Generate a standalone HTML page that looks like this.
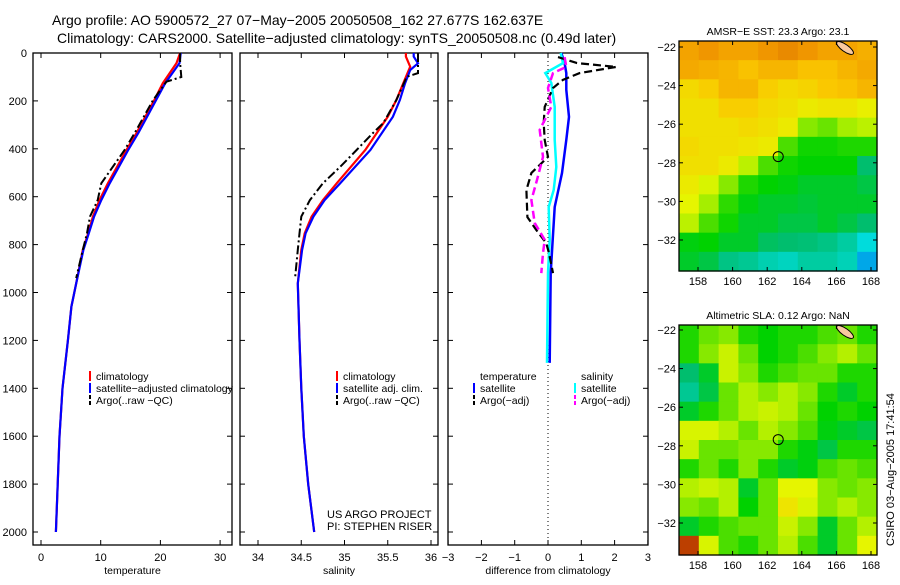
<!DOCTYPE html>
<html><head><meta charset="utf-8"><style>
body{margin:0;background:#fff;}
svg{font-family:"Liberation Sans",sans-serif;}
</style></head><body>
<svg id="c" width="900" height="580" xmlns="http://www.w3.org/2000/svg">
<text x="52" y="25" font-size="14">Argo profile: AO 5900572_27 07−May−2005 20050508_162 27.677S 162.637E</text>
<text x="57" y="43" font-size="14">Climatology: CARS2000. Satellite−adjusted climatology: synTS_20050508.nc (0.49d later)</text>
<text x="327" y="518" font-size="11">US ARGO PROJECT</text>
<text x="327" y="530" font-size="11">PI: STEPHEN RISER</text>
<text transform="translate(894,546) rotate(-90)" font-size="11">CSIRO 03−Aug−2005 17:41:54</text>
</svg>
<script>
const NS="http://www.w3.org/2000/svg";
const svg=document.getElementById('c');
// ---- data ----
const depthT=[0,42,126,196,334,405,544,614,683,753,822,962,1059,1200,1400,1600,1800,2000];
const tempClim=[23.3,22.7,20.4,19,16,14.3,11.2,9.8,8.7,7.9,7.0,5.9,5.1,4.5,3.6,3.1,2.8,2.5];
const tempSat=[23.4,23.2,20.8,19.3,16.3,14.6,11.5,10.1,8.9,8.0,7.1,5.9,5.1,4.5,3.6,3.1,2.8,2.5];
const depthArgoT=[0,42,70,100,120,196,334,405,544,614,683,753,822,940];
const tempArgo=[23.3,23.3,23.4,23.5,21.0,18.8,15.7,14.0,10.1,9.5,8.2,7.7,7.0,5.9];
const depthSC=[0,15,57,126,196,266,405,544,614,683,753,822,962,1200,1400,1600,1800,2000];
const salClim=[35.71,35.71,35.76,35.68,35.6,35.5,35.24,34.91,34.75,34.62,34.54,34.5,34.46,34.48,34.5,34.53,34.58,34.65];
const depthSS=[0,15,43,71,126,196,266,405,544,614,683,753,822,962,1200,1400,1600,1800,2000];
const salSat=[35.8,35.8,35.85,35.76,35.7,35.64,35.56,35.3,34.95,34.77,34.64,34.55,34.51,34.46,34.48,34.5,34.53,34.58,34.65];
const depthArgoS=[0,15,84,99,196,292,334,405,475,544,614,683,753,822,934];
const salArgo=[35.85,35.85,35.85,35.72,35.6,35.45,35.33,35.14,34.95,34.75,34.6,34.5,34.48,34.46,34.43];
const depthD=[0,42,84,154,267,363,501,643,780,919,1294];
const dTempSat=[0.4,0.5,0.55,0.55,0.63,0.55,0.42,0.2,0.14,0.08,0.05];
const depthDS=[0,42,84,125,225,363,476,572,643,780,919,1294];
const dSalSat=[0.38,0.45,-0.08,0.1,0.2,0.2,0.25,0.17,0.02,0.05,0,-0.03];
const depthDA=[17,42,58,84,112,146,225,292,363,434,501,572,685,739,794,836,919];
const dTempArgo=[0.3,0.87,2.05,0.95,0.45,0.15,-0.1,-0.13,-0.1,0,-0.5,-0.65,-0.62,-0.35,-0.05,0.03,0.15];
const depthDM=[17,58,84,146,225,321,434,530,614,710,780,836,919];
const dSalArgo=[0.5,0.55,0.15,0,0.1,-0.25,-0.15,-0.33,-0.5,-0.4,-0.1,-0.15,-0.2];
const depthTicks=[0,200,400,600,800,1000,1200,1400,1600,1800,2000];
const tempTicks=[0,10,20,30];
const salTicks=[34,34.5,35,35.5,36];
const diffTicks=[-3,-2,-1,0,1,2,3];
const sstGrid=[
[.86,.88,.86,.86,.88,.89,.88,.86,.86,.84],
[.85,.84,.83,.81,.83,.83,.81,.81,.83,.85],
[.77,.79,.83,.83,.79,.77,.78,.8,.81,.83],
[.76,.76,.79,.79,.77,.76,.74,.75,.75,.73],
[.76,.76,.76,.77,.76,.74,.62,.6,.64,.66],
[.77,.76,.76,.75,.74,.58,.54,.54,.55,.55],
[.76,.76,.74,.66,.58,.54,.53,.53,.53,.45],
[.74,.7,.62,.55,.53,.52,.5,.5,.5,.48],
[.72,.64,.56,.52,.5,.5,.49,.5,.5,.5],
[.66,.58,.54,.5,.5,.48,.48,.5,.48,.45],
[.52,.53,.5,.5,.46,.45,.44,.42,.38,.3],
[.5,.48,.42,.4,.36,.34,.38,.38,.35,.2]];
const slaGrid=[
[.55,.6,.62,.55,.53,.55,.55,.58,.6,.55],
[.55,.62,.68,.6,.53,.55,.58,.62,.65,.6],
[.45,.5,.68,.62,.55,.58,.6,.6,.55,.55],
[.4,.48,.6,.65,.62,.65,.62,.55,.5,.55],
[.5,.55,.6,.65,.68,.65,.6,.53,.55,.53],
[.7,.7,.65,.6,.65,.62,.58,.52,.5,.48],
[.68,.6,.6,.62,.62,.55,.52,.48,.55,.55],
[.55,.6,.55,.62,.55,.5,.52,.58,.6,.58],
[.65,.68,.65,.5,.6,.72,.72,.62,.6,.62],
[.62,.6,.65,.53,.6,.75,.7,.62,.65,.62],
[.5,.55,.58,.6,.6,.68,.62,.5,.6,.65],
[.95,.7,.58,.55,.6,.65,.58,.5,.6,.72]];
const lonTicks=[158,160,162,164,166,168];
const latTicks=[-22,-24,-26,-28,-30,-32];
const argoPos=[162.637,-27.677];
// ---- helpers ----
function el(tag,attrs,parent){const e=document.createElementNS(NS,tag);for(const k in attrs)e.setAttribute(k,attrs[k]);(parent||svg).appendChild(e);return e;}
function txt(s,x,y,anchor,size,name){const t=el('text',{x:x,y:y,'text-anchor':anchor,'font-size':size});t.textContent=s;


return t;}
const Y0=53,Y1=545;
const yD=d=>53+d*0.2395;
function panel(x0,x1,name,xs,ticks,fmt,label,ylabels){
  const r=el('rect',{x:x0,y:Y0,width:x1-x0,height:Y1-Y0,fill:'none',stroke:'#000','stroke-width':1.3});
  
  
  ticks.forEach(v=>{const x=xs(v);el('line',{x1:x,x2:x,y1:Y1,y2:Y1-5,stroke:'#000'});el('line',{x1:x,x2:x,y1:Y0,y2:Y0+5,stroke:'#000'});
    txt(fmt(v),x,561,'middle',11,name+'-x-tick');});
  depthTicks.forEach(d=>{const y=yD(d);el('line',{x1:x0,x2:x0+5,y1:y,y2:y,stroke:'#000'});el('line',{x1:x1,x2:x1-5,y1:y,y2:y,stroke:'#000'});
    if(ylabels)txt(String(d),27,y+4,'end',11,'depth-tick-label');});
  txt(label,(x0+x1)/2,574,'middle',10.5,name+'-x-title');
}
function line(xs,vals,deps,color,w,dash,name){
  const p=vals.map((v,i)=>xs(v).toFixed(1)+','+yD(deps[i]).toFixed(1)).join(' ');
  const l=el('polyline',{points:p,fill:'none',stroke:color,'stroke-width':w});
  if(dash)l.setAttribute('stroke-dasharray',dash);
  
  
}
// panel 1
const xT=v=>41+v*5.97;
panel(33,232,'temperature-panel',xT,tempTicks,String,'temperature',true);
line(xT,tempClim,depthT,'#f00',2.2,null,'temp-climatology-line');
line(xT,tempSat,depthT,'#00f',2.2,null,'temp-satellite-line');
line(xT,tempArgo,depthArgoT,'#000',2,'9,3,2,3','temp-argo-line');
// panel 2
const xS=v=>258+(v-34)*86.5;
panel(240,438,'salinity-panel',xS,salTicks,String,'salinity',false);
line(xS,salClim,depthSC,'#f00',2.2,null,'sal-climatology-line');
line(xS,salSat,depthSS,'#00f',2.2,null,'sal-satellite-line');
line(xS,salArgo,depthArgoS,'#000',2,'9,3,2,3','sal-argo-line');
// panel 3
const xDf=v=>548+v*33.3;
panel(448,648,'difference-panel',xDf,diffTicks,v=>v<0?'−'+(-v):String(v),'difference from climatology',false);
el('line',{x1:548,x2:548,y1:Y0,y2:Y1,stroke:'#000','stroke-dasharray':'1,3'});
line(xDf,dTempSat,depthD,'#00f',2.5,null,'diff-temp-satellite-line');
line(xDf,dSalSat,depthDS,'#0ff',2.5,null,'diff-sal-satellite-line');
line(xDf,dTempArgo,depthDA,'#000',2.2,'8,4','diff-temp-argo-line');
line(xDf,dSalArgo,depthDM,'#f0f',2.5,'8,4','diff-sal-argo-line');
// legends
function leg(x,y,color,label,name,dash){const l=el('line',{x1:x,x2:x,y1:y-9,y2:y+1,stroke:color,'stroke-width':2});if(dash)l.setAttribute('stroke-dasharray','4,2');
  
  
  txt(label,x+6,y,'start',10.5,name);}
leg(90,380,'#f00','climatology','legend-climatology');
leg(90,392,'#00f','satellite−adjusted climatology','legend-satellite');
leg(90,404,'#000','Argo(..raw −QC)','legend-argo',1);
leg(337,380,'#f00','climatology','legend2-climatology');
leg(337,392,'#00f','satellite adj. clim.','legend2-satellite');
leg(337,404,'#000','Argo(..raw −QC)','legend2-argo',1);
txt('temperature',480,380,'start',10.5,'legend3-temperature-header');
leg(474,392,'#00f','satellite','legend3-temp-satellite');
leg(474,404,'#000','Argo(−adj)','legend3-temp-argo',1);
txt('salinity',581,380,'start',10.5,'legend3-salinity-header');
leg(575,392,'#0ff','satellite','legend3-sal-satellite');
leg(575,404,'#f0f','Argo(−adj)','legend3-sal-argo',1);
// maps
const stops=[[0,[0,60,255]],[.3,[0,220,220]],[.45,[0,190,110]],[.53,[0,210,0]],[.65,[180,240,0]],[.72,[230,245,0]],[.8,[250,200,0]],[.88,[240,150,0]],[1,[150,0,0]]];
function cmap(v){for(let i=1;i<stops.length;i++){if(v<=stops[i][0]){const a=stops[i-1],b=stops[i],t=(v-a[0])/(b[0]-a[0]);
  return 'rgb('+a[1].map((c,k)=>Math.round(c+(b[1][k]-c)*t)).join(',')+')';}}return 'rgb(150,0,0)';}
function map(top,bot,lat22,lat32,grid,title,name){
  const x0=679,x1=877;
  const xL=lon=>698+(lon-158)*17.3;
  const yL=lat=>lat22+(-22-lat)*(lat32-lat22)/10;
  const rows=grid.length,cols=grid[0].length,cw=(x1-x0)/cols,ch=(bot-top)/rows;
  grid.forEach((row,r)=>row.forEach((v,c)=>{const e=el('rect',{x:x0+c*cw,y:top+r*ch,width:cw+0.6,height:ch+0.6,fill:cmap(v)});
    
    }));
  const cx=xL(166.5),cy=top+7;
  el('ellipse',{cx:cx,cy:cy,rx:10,ry:3.5,transform:`rotate(35 ${cx} ${cy})`,fill:'#f9c9a0',stroke:'#000'});
  el('circle',{cx:xL(argoPos[0]),cy:yL(argoPos[1]),r:5,fill:'none',stroke:'#000'});
  const f=el('rect',{x:x0,y:top,width:x1-x0,height:bot-top,fill:'none',stroke:'#000','stroke-width':1.3});
  
  
  lonTicks.forEach(l=>{const x=xL(l);el('line',{x1:x,x2:x,y1:bot,y2:bot-4,stroke:'#000'});el('line',{x1:x,x2:x,y1:top,y2:top+4,stroke:'#000'});txt(String(l),x,bot+14,'middle',11,name+'-lon-tick');});
  latTicks.forEach(l=>{const y=yL(l);el('line',{x1:x0,x2:x0+4,y1:y,y2:y,stroke:'#000'});el('line',{x1:x1,x2:x1-4,y1:y,y2:y,stroke:'#000'});txt('−'+(-l),x0-3,y+4,'end',11,name+'-lat-tick');});
  txt(title,(x0+x1)/2,top-6,'middle',10.5,name+'-title');
}
map(41,271,47,240,sstGrid,'AMSR−E SST: 23.3 Argo: 23.1','sst-map');
map(325,555,330,523,slaGrid,'Altimetric SLA: 0.12 Argo: NaN','sla-map');
</script>
</body></html>
